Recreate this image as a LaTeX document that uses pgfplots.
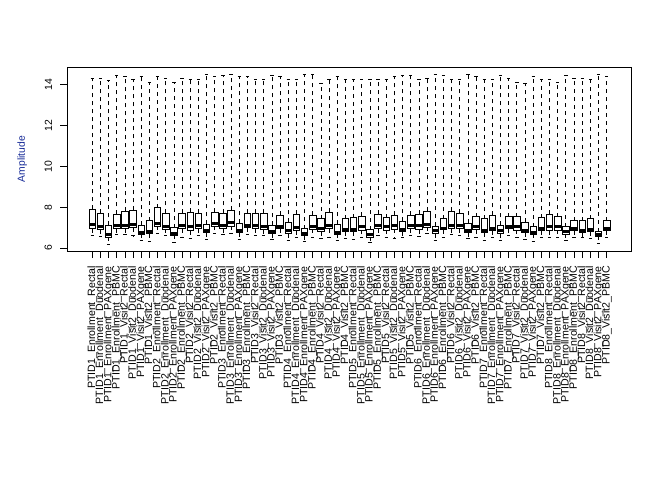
\documentclass[border=0pt]{standalone}
\usepackage{fontspec}
\setmainfont{Liberation Sans}
\usepackage{pgfplots}
\usepackage{pgfplotstable}
\usepgfplotslibrary{statistics}
\pgfplotsset{compat=1.18}
\definecolor{labblue}{RGB}{20,40,150}

\pgfplotstableread{
lw q1 med q3 uw
6.62 6.95 7.16 7.89 14.33
6.57 6.90 7.07 7.69 14.33
6.18 6.54 6.67 7.11 14.20
6.67 6.95 7.08 7.64 14.44
6.67 6.95 7.08 7.79 14.39
6.59 7.00 7.13 7.84 14.28
6.38 6.66 6.74 7.11 14.39
6.33 6.70 6.79 7.34 14.13
6.70 7.07 7.20 7.98 14.39
6.59 6.92 7.07 7.69 14.33
6.28 6.61 6.69 7.00 14.13
6.54 6.95 7.08 7.69 14.33
6.46 6.85 7.07 7.74 14.28
6.62 6.95 7.08 7.69 14.28
6.41 6.75 6.84 7.15 14.49
6.70 7.07 7.20 7.74 14.39
6.67 6.95 7.08 7.69 14.44
6.70 7.07 7.25 7.84 14.52
6.41 6.74 6.84 7.20 14.39
6.67 7.00 7.11 7.69 14.39
6.59 6.95 7.08 7.69 14.25
6.59 6.90 7.03 7.69 14.25
6.41 6.70 6.79 7.11 14.44
6.59 6.95 7.03 7.59 14.39
6.38 6.70 6.84 7.25 14.25
6.54 6.85 7.00 7.64 14.25
6.33 6.59 6.70 6.95 14.52
6.51 6.92 7.07 7.59 14.48
6.46 6.80 6.95 7.44 14.08
6.51 6.95 7.11 7.74 14.28
6.38 6.66 6.74 7.15 14.39
6.46 6.80 6.92 7.44 14.28
6.41 6.80 6.92 7.49 14.28
6.51 6.87 7.03 7.56 14.28
6.28 6.54 6.67 6.90 14.28
6.62 6.95 7.08 7.64 14.28
6.51 6.87 7.03 7.49 14.28
6.46 6.92 7.08 7.59 14.41
6.51 6.79 6.92 7.30 14.44
6.62 6.95 7.08 7.59 14.44
6.57 6.90 7.08 7.64 14.28
6.70 7.03 7.16 7.79 14.33
6.38 6.70 6.84 7.07 14.52
6.54 6.90 6.95 7.44 14.44
6.67 6.95 7.11 7.79 14.28
6.59 6.95 7.11 7.69 14.28
6.46 6.74 6.84 7.20 14.52
6.54 6.90 7.03 7.54 14.39
6.38 6.75 6.87 7.44 14.28
6.51 6.84 6.95 7.59 14.25
6.38 6.70 6.84 7.10 14.44
6.59 6.95 7.03 7.54 14.33
6.54 6.87 7.03 7.54 14.13
6.41 6.75 6.87 7.25 14.08
6.34 6.66 6.74 7.05 14.39
6.51 6.84 6.95 7.49 14.25
6.51 6.84 7.03 7.64 14.25
6.51 6.87 7.03 7.54 14.13
6.38 6.66 6.79 7.05 14.44
6.51 6.84 6.95 7.34 14.33
6.51 6.75 6.87 7.34 14.33
6.46 6.80 6.90 7.44 14.25
6.21 6.57 6.67 6.80 14.52
6.51 6.84 6.95 7.34 14.39
}\boxdata

\begin{document}
\begin{tikzpicture}
\useasboundingbox (0,0) rectangle (672pt,480pt);
\begin{axis}[
  at={(67.3pt,229pt)}, anchor=south west,
  scale only axis, width=564.4pt, height=183.7pt,
  xmin=-2.06, xmax=67.06, ymin=5.85, ymax=14.85,
  axis line style={line width=0.8pt},
  tick pos=left, tick align=outside, major tick length=7pt,
  tick style={line width=0.8pt, black},
  ytick={6,8,10,12,14},
  xtick={1,...,64},
  /pgf/number format/assume math mode=true,
  yticklabel shift=8pt,
  yticklabel style={rotate=90, anchor=south, inner sep=0pt, font=\fontsize{10.4}{12}\selectfont},
  xticklabel style={yshift=-8pt, rotate=90, anchor=east, inner sep=0pt, font=\fontsize{10.6}{12}\selectfont},
  ylabel={Amplitude},
  ylabel style={at={(axis description cs:-0.080,0.5)}, anchor=center, color=labblue, font=\fontsize{10.3}{12}\selectfont},
  xticklabels={
PTID1\_Enrollment\_Rectal,PTID1\_Enrollment\_Duodenal,PTID1\_Enrollment\_PAXgene,PTID1\_Enrollment\_PBMC,PTID1\_Visit2\_Rectal,PTID1\_Visit2\_Duodenal,PTID1\_Visit2\_PAXgene,PTID1\_Visit2\_PBMC,
PTID2\_Enrollment\_Rectal,PTID2\_Enrollment\_Duodenal,PTID2\_Enrollment\_PAXgene,PTID2\_Enrollment\_PBMC,PTID2\_Visit2\_Rectal,PTID2\_Visit2\_Duodenal,PTID2\_Visit2\_PAXgene,PTID2\_Visit2\_PBMC,
PTID3\_Enrollment\_Rectal,PTID3\_Enrollment\_Duodenal,PTID3\_Enrollment\_PAXgene,PTID3\_Enrollment\_PBMC,PTID3\_Visit2\_Rectal,PTID3\_Visit2\_Duodenal,PTID3\_Visit2\_PAXgene,PTID3\_Visit2\_PBMC,
PTID4\_Enrollment\_Rectal,PTID4\_Enrollment\_Duodenal,PTID4\_Enrollment\_PAXgene,PTID4\_Enrollment\_PBMC,PTID4\_Visit2\_Rectal,PTID4\_Visit2\_Duodenal,PTID4\_Visit2\_PAXgene,PTID4\_Visit2\_PBMC,
PTID5\_Enrollment\_Rectal,PTID5\_Enrollment\_Duodenal,PTID5\_Enrollment\_PAXgene,PTID5\_Enrollment\_PBMC,PTID5\_Visit2\_Rectal,PTID5\_Visit2\_Duodenal,PTID5\_Visit2\_PAXgene,PTID5\_Visit2\_PBMC,
PTID6\_Enrollment\_Rectal,PTID6\_Enrollment\_Duodenal,PTID6\_Enrollment\_PAXgene,PTID6\_Enrollment\_PBMC,PTID6\_Visit2\_Rectal,PTID6\_Visit2\_Duodenal,PTID6\_Visit2\_PAXgene,PTID6\_Visit2\_PBMC,
PTID7\_Enrollment\_Rectal,PTID7\_Enrollment\_Duodenal,PTID7\_Enrollment\_PAXgene,PTID7\_Enrollment\_PBMC,PTID7\_Visit2\_Rectal,PTID7\_Visit2\_Duodenal,PTID7\_Visit2\_PAXgene,PTID7\_Visit2\_PBMC,
PTID8\_Enrollment\_Rectal,PTID8\_Enrollment\_Duodenal,PTID8\_Enrollment\_PAXgene,PTID8\_Enrollment\_PBMC,PTID8\_Visit2\_Rectal,PTID8\_Visit2\_Duodenal,PTID8\_Visit2\_PAXgene,PTID8\_Visit2\_PBMC},
  boxplot/draw direction=y,
  boxplot/box extend=0.8,
  boxplot/whisker extend=0.4,
  boxplot/every box/.style={line width=0.8pt, fill=white},
  boxplot/every median/.style={line width=3pt},
  boxplot/every whisker/.style={line width=0.8pt, dash pattern=on 4pt off 4pt},
  boxplot/draw/lower whisker/.code={%
    \draw[/pgfplots/boxplot/every whisker/.try]
      (boxplot box cs:\pgfplotsboxplotvalue{lower quartile},0.5) --
      (boxplot box cs:\pgfplotsboxplotvalue{lower whisker},0.5);
    \draw[solid, line width=0.8pt]
      (boxplot whisker cs:\pgfplotsboxplotvalue{lower whisker},0) --
      (boxplot whisker cs:\pgfplotsboxplotvalue{lower whisker},1);
  },
  boxplot/draw/upper whisker/.code={%
    \draw[/pgfplots/boxplot/every whisker/.try]
      (boxplot box cs:\pgfplotsboxplotvalue{upper quartile},0.5) --
      (boxplot box cs:\pgfplotsboxplotvalue{upper whisker},0.5);
    \draw[solid, line width=0.8pt]
      (boxplot whisker cs:\pgfplotsboxplotvalue{upper whisker},0) --
      (boxplot whisker cs:\pgfplotsboxplotvalue{upper whisker},1);
  },
]
\pgfplotsinvokeforeach{0,...,63}{
  \pgfplotstablegetelem{#1}{lw}\of\boxdata \edef\LW{\pgfplotsretval}
  \pgfplotstablegetelem{#1}{q1}\of\boxdata \edef\QA{\pgfplotsretval}
  \pgfplotstablegetelem{#1}{med}\of\boxdata \edef\MD{\pgfplotsretval}
  \pgfplotstablegetelem{#1}{q3}\of\boxdata \edef\QB{\pgfplotsretval}
  \pgfplotstablegetelem{#1}{uw}\of\boxdata \edef\UW{\pgfplotsretval}
  \edef\doplot{\noexpand\addplot[black, solid, boxplot prepared={draw position=\number\numexpr#1+1\relax, lower whisker=\LW, lower quartile=\QA, median=\MD, upper quartile=\QB, upper whisker=\UW}] coordinates {};}
  \doplot
}
\end{axis}
\end{tikzpicture}
\end{document}
